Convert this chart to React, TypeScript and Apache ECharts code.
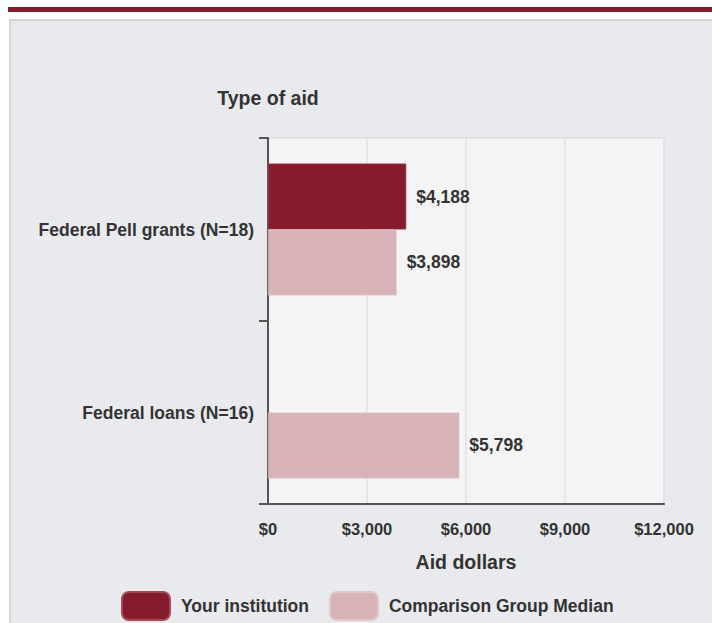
import React, { useEffect, useRef } from "react";
import * as echarts from "echarts";

const categories = ["Federal Pell grants (N=18)", "Federal loans (N=16)"];
const institutionValues: (number | null)[] = [4188, null];
const comparisonValues: (number | null)[] = [3898, 5798];
const seriesNames = ["Your institution", "Comparison Group Median"];
const xTicks = [0, 3000, 6000, 9000, 12000];

const FONT = "'Liberation Sans', Arial, sans-serif";
const TEXT = "#333333";
const fmt = (v: number) => "$" + v.toLocaleString("en-US");

export default function App() {
  const ref = useRef<HTMLDivElement>(null);
  useEffect(() => {
    if (!ref.current) return;
    const chart = echarts.init(ref.current, null, { renderer: "svg" });
    chart.setOption({
      animation: false,
      textStyle: { fontFamily: FONT },
      graphic: [
        { type: "rect", z: -10, shape: { x: 8, y: 7, width: 704, height: 5 }, style: { fill: "#861b2d" } },
        { type: "rect", z: -10, shape: { x: 10, y: 20, width: 710, height: 610 }, style: { fill: "#e9eaee", stroke: "#d4d4d4", lineWidth: 2 } },
      ],
      grid: {
        left: 268, top: 138, right: 48, bottom: 119,
        show: true, backgroundColor: "#f4f4f4", borderColor: "#d6d6d6", borderWidth: 1,
        containLabel: false,
      },
      legend: {
        top: 586, left: 116,
        icon: "roundRect", itemWidth: 48, itemHeight: 28, itemGap: 20,
        textStyle: { fontSize: 17.5, fontWeight: "bold", color: TEXT, fontFamily: FONT, padding: [0, 0, 0, 6] },
        data: seriesNames,
      },
      xAxis: {
        type: "value", min: xTicks[0], max: xTicks[xTicks.length - 1], interval: 3000,
        name: "Aid dollars", nameLocation: "middle", nameGap: 48,
        nameTextStyle: { fontSize: 19.5, fontWeight: "bold", color: TEXT, fontFamily: FONT },
        axisLine: { show: true, lineStyle: { color: "#555555", width: 2 } },
        axisTick: { show: false },
        axisLabel: { formatter: (v: number) => fmt(v), fontSize: 16.5, fontWeight: "bold", color: TEXT, margin: 16, fontFamily: FONT },
        splitLine: { show: true, lineStyle: { color: "#dde3ee", width: 1.5 } },
      },
      yAxis: {
        type: "category", data: categories, inverse: true,
        name: "Type of aid", nameLocation: "start", nameGap: 30,
        nameTextStyle: { fontSize: 19.5, fontWeight: "bold", color: TEXT, fontFamily: FONT, align: "center" },
        axisLine: { show: true, lineStyle: { color: "#555555", width: 2 } },
        axisTick: { show: true, length: 9, lineStyle: { color: "#555555", width: 2 } },
        axisLabel: { fontSize: 17.5, fontWeight: "bold", color: TEXT, margin: 14, fontFamily: FONT },
        splitLine: { show: false },
      },
      series: [
        {
          name: seriesNames[0], type: "bar", data: institutionValues,
          barCategoryGap: "28%", barGap: "0%",
          itemStyle: { color: "#861b2d", borderColor: "#a34a58", borderWidth: 0.5 },
          label: { show: true, position: "right", distance: 10, formatter: (p: any) => fmt(p.value), fontSize: 17.5, fontWeight: "bold", color: TEXT, fontFamily: FONT },
        },
        {
          name: seriesNames[1], type: "bar", data: comparisonValues,
          barCategoryGap: "28%", barGap: "0%",
          itemStyle: { color: "#d7b3b8", borderColor: "#e2c6ca", borderWidth: 0.5 },
          label: { show: true, position: "right", distance: 10, formatter: (p: any) => fmt(p.value), fontSize: 17.5, fontWeight: "bold", color: TEXT, fontFamily: FONT },
        },
      ],
    });
    return () => chart.dispose();
  }, []);
  return <div ref={ref} style={{ position: "absolute", left: 0, top: 0, width: 712, height: 623 }} />;
}
